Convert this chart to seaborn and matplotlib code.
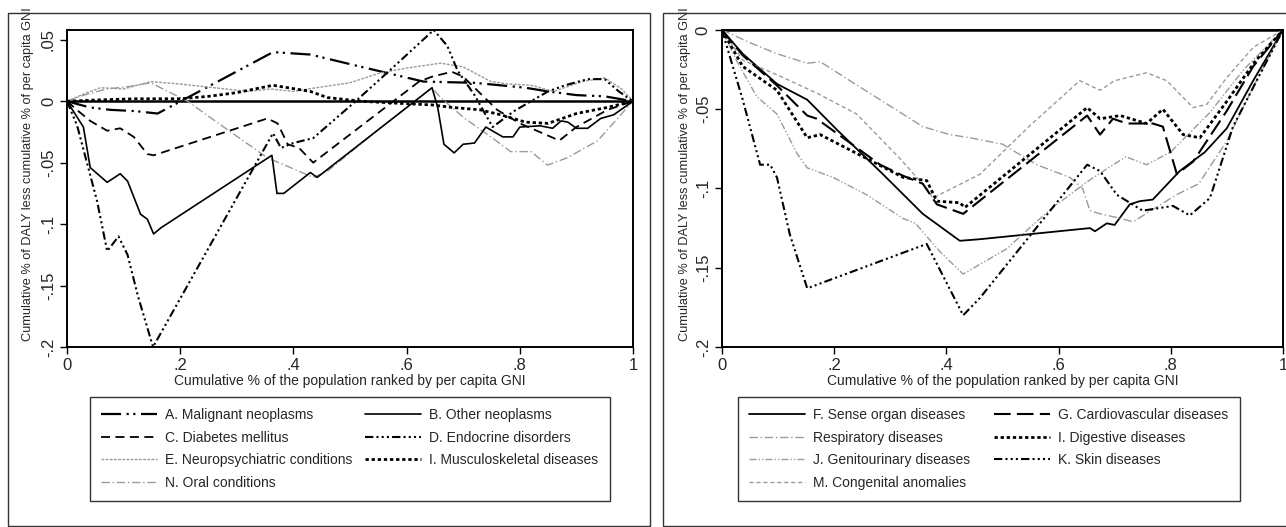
import matplotlib
matplotlib.use("Agg")
import matplotlib.pyplot as plt
import seaborn as sns
from matplotlib.patches import Rectangle

# left panel series
a_x = [0, 0.04, 0.077, 0.12, 0.16, 0.25, 0.364, 0.43, 0.52, 0.63, 0.72, 0.81, 0.85, 0.90, 0.95, 1]
a_y = [0, -0.005, -0.007, -0.008, -0.010, 0.012, 0.040, 0.038, 0.028, 0.016, 0.015, 0.011, 0.008, 0.005, 0.004, 0]

b_x = [0, 0.029, 0.041, 0.071, 0.094, 0.107, 0.13, 0.142, 0.153, 0.166, 0.362, 0.371, 0.383, 0.43, 0.442,
       0.645, 0.655, 0.666, 0.684, 0.70, 0.72, 0.74, 0.77, 0.788, 0.80, 0.836, 0.858, 0.873, 0.885, 0.90,
       0.92, 0.943, 0.966, 1]
b_y = [0, -0.021, -0.054, -0.066, -0.059, -0.065, -0.092, -0.096, -0.108, -0.103, -0.044, -0.075, -0.075,
       -0.058, -0.062, 0.011, -0.005, -0.035, -0.042, -0.035, -0.034, -0.021, -0.029, -0.029, -0.021, -0.020,
       -0.022, -0.016, -0.017, -0.022, -0.022, -0.014, -0.011, 0]

c_x = [0, 0.02, 0.041, 0.071, 0.094, 0.118, 0.142, 0.153, 0.354, 0.372, 0.39, 0.41, 0.435, 0.622, 0.645,
       0.68, 0.70, 0.76, 0.80, 0.84, 0.87, 0.90, 0.955, 1]
c_y = [0, -0.008, -0.016, -0.024, -0.022, -0.029, -0.043, -0.044, -0.014, -0.018, -0.035, -0.038, -0.050,
       0.016, 0.020, 0.024, 0.020, -0.007, -0.018, -0.026, -0.032, -0.021, -0.007, 0]

d_x = [0, 0.018, 0.053, 0.071, 0.091, 0.107, 0.125, 0.152, 0.364, 0.378, 0.40, 0.435, 0.51, 0.57, 0.648,
       0.672, 0.69, 0.72, 0.752, 0.79, 0.82, 0.85, 0.88, 0.92, 0.95, 0.975, 1]
d_y = [0, -0.020, -0.081, -0.122, -0.110, -0.125, -0.158, -0.200, -0.026, -0.038, -0.034, -0.030, 0.0,
       0.025, 0.058, 0.045, 0.025, 0.005, -0.021, -0.008, 0.0, 0.008, 0.013, 0.018, 0.018, 0.008, 0]

e_x = [0, 0.03, 0.059, 0.10, 0.148, 0.20, 0.26, 0.32, 0.36, 0.40, 0.44, 0.50, 0.553, 0.60, 0.66, 0.70,
       0.749, 0.78, 0.82, 0.86, 0.91, 0.95, 0.98, 1]
e_y = [0, 0.006, 0.011, 0.010, 0.016, 0.014, 0.011, 0.008, 0.010, 0.008, 0.011, 0.015, 0.023, 0.027,
       0.031, 0.028, 0.016, 0.014, 0.013, 0.008, 0.016, 0.019, 0.010, 0]

i1_x = [0, 0.05, 0.12, 0.20, 0.25, 0.30, 0.364, 0.43, 0.46, 0.52, 0.60, 0.645, 0.68, 0.73, 0.766, 0.81,
        0.85, 0.90, 0.955, 1]
i1_y = [0, 0.001, 0.002, 0.002, 0.004, 0.007, 0.013, 0.008, 0.003, 0.0, -0.002, -0.003, -0.005, -0.007,
        -0.011, -0.017, -0.018, -0.010, -0.005, 0]

n_x = [0, 0.03, 0.07, 0.11, 0.148, 0.213, 0.28, 0.354, 0.40, 0.435, 0.46, 0.55, 0.645, 0.66, 0.70, 0.749,
       0.784, 0.82, 0.849, 0.884, 0.938, 0.99, 1]
n_y = [0, 0.005, 0.010, 0.012, 0.015, 0.0, -0.022, -0.046, -0.055, -0.062, -0.057, -0.023, 0.011, 0.003,
       -0.013, -0.029, -0.041, -0.041, -0.052, -0.046, -0.032, -0.005, 0]

# right panel series
f_x = [0, 0.037, 0.098, 0.152, 0.205, 0.287, 0.358, 0.424, 0.46, 0.656, 0.665, 0.686, 0.70, 0.727, 0.745,
       0.768, 0.816, 0.861, 0.90, 0.947, 1]
f_y = [0, -0.015, -0.034, -0.044, -0.063, -0.091, -0.116, -0.133, -0.132, -0.125, -0.127, -0.122, -0.123,
       -0.110, -0.108, -0.107, -0.089, -0.077, -0.062, -0.032, 0]

g_x = [0, 0.037, 0.098, 0.152, 0.169, 0.282, 0.323, 0.358, 0.383, 0.43, 0.651, 0.674, 0.697, 0.722, 0.768,
       0.786, 0.811, 0.84, 0.90, 0.947, 1]
g_y = [0, -0.016, -0.035, -0.054, -0.056, -0.085, -0.092, -0.097, -0.110, -0.116, -0.054, -0.066, -0.056,
       -0.059, -0.059, -0.061, -0.091, -0.083, -0.051, -0.023, 0]

r_x = [0, 0.05, 0.098, 0.152, 0.175, 0.228, 0.30, 0.358, 0.406, 0.442, 0.50, 0.561, 0.62, 0.643, 0.656,
       0.674, 0.70, 0.733, 0.76, 0.81, 0.85, 0.90, 0.947, 1]
r_y = [0, -0.008, -0.015, -0.021, -0.020, -0.032, -0.048, -0.061, -0.066, -0.068, -0.072, -0.085, -0.093,
       -0.100, -0.114, -0.116, -0.118, -0.121, -0.115, -0.104, -0.097, -0.070, -0.036, 0]

i2_x = [0, 0.037, 0.098, 0.152, 0.175, 0.323, 0.365, 0.383, 0.424, 0.433, 0.651, 0.674, 0.71, 0.757, 0.786,
        0.822, 0.852, 0.90, 0.95, 1]
i2_y = [0, -0.023, -0.038, -0.068, -0.066, -0.093, -0.095, -0.108, -0.109, -0.112, -0.049, -0.056, -0.054,
        -0.059, -0.050, -0.066, -0.068, -0.045, -0.020, 0]

j_x = [0, 0.027, 0.062, 0.098, 0.134, 0.152, 0.198, 0.258, 0.323, 0.345, 0.389, 0.43, 0.508, 0.554, 0.59,
       0.65, 0.68, 0.72, 0.757, 0.80, 0.87, 0.93, 1]
j_y = [0, -0.020, -0.042, -0.053, -0.078, -0.087, -0.093, -0.104, -0.119, -0.122, -0.140, -0.154, -0.138,
       -0.123, -0.112, -0.096, -0.089, -0.080, -0.085, -0.077, -0.052, -0.025, 0]

k_x = [0, 0.037, 0.068, 0.086, 0.098, 0.121, 0.152, 0.365, 0.43, 0.46, 0.651, 0.674, 0.704, 0.75, 0.804,
       0.834, 0.87, 0.911, 0.959, 1]
k_y = [0, -0.044, -0.085, -0.085, -0.093, -0.129, -0.163, -0.135, -0.180, -0.169, -0.085, -0.089, -0.104,
       -0.114, -0.111, -0.117, -0.106, -0.061, -0.028, 0]

m_x = [0, 0.037, 0.109, 0.17, 0.24, 0.317, 0.365, 0.376, 0.46, 0.55, 0.638, 0.674, 0.70, 0.757, 0.793,
       0.84, 0.864, 0.90, 0.947, 1]
m_y = [0, -0.019, -0.030, -0.040, -0.053, -0.081, -0.100, -0.106, -0.091, -0.060, -0.032, -0.038, -0.032,
       -0.027, -0.032, -0.049, -0.047, -0.030, -0.011, 0]

x_ticks = [0, 0.2, 0.4, 0.6, 0.8, 1]
x_labels = ["0", ".2", ".4", ".6", ".8", "1"]
left_yticks = [-0.2, -0.15, -0.1, -0.05, 0, 0.05]
left_ylabels = ["-.2", "-.15", "-.1", "-.05", "0", ".05"]
right_yticks = [-0.2, -0.15, -0.1, -0.05, 0]
right_ylabels = ["-.2", "-.15", "-.1", "-.05", "0"]

sns.set_theme(style="white")
plt.rcParams["font.family"] = ["Liberation Sans Narrow", "Liberation Sans", "DejaVu Sans"]

BLK = "black"
GRY = "#9a9a9a"
dashdot2 = (0, (9, 2.5, 1, 2, 1, 2.5))
dashdot3 = (0, (4, 1.5, 1, 1.5, 1, 1.5, 1, 1.5))
grey_dd = (0, (6, 2, 1, 2))
grey_ddd = (0, (5, 1.5, 1, 1.5, 1, 1.5))

left_series = [
    ("A. Malignant neoplasms", a_x, a_y, BLK, dashdot2, 1.6),
    ("C. Diabetes mellitus", c_x, c_y, BLK, (0, (5, 3)), 1.3),
    ("E. Neuropsychiatric conditions", e_x, e_y, GRY, (0, (2, 1)), 1.0),
    ("N. Oral conditions", n_x, n_y, GRY, grey_dd, 1.0),
    ("B. Other neoplasms", b_x, b_y, BLK, "-", 1.2),
    ("D. Endocrine disorders", d_x, d_y, BLK, dashdot3, 1.5),
    ("I. Musculoskeletal diseases", i1_x, i1_y, BLK, (0, (1.2, 1)), 2.0),
]
right_series = [
    ("F. Sense organ diseases", f_x, f_y, BLK, "-", 1.3),
    ("Respiratory diseases", r_x, r_y, GRY, grey_dd, 1.0),
    ("J. Genitourinary diseases", j_x, j_y, GRY, grey_ddd, 1.0),
    ("M. Congenital anomalies", m_x, m_y, GRY, (0, (3, 2)), 1.0),
    ("G. Cardiovascular diseases", g_x, g_y, BLK, (0, (8, 3)), 1.5),
    ("I. Digestive diseases", i2_x, i2_y, BLK, (0, (1.2, 1)), 2.0),
    ("K. Skin diseases", k_x, k_y, BLK, dashdot3, 1.5),
]

fig = plt.figure(figsize=(12.86, 5.27), dpi=100)

# outer panel frames
fig.patches.append(Rectangle((0.0062, 0.002), 0.499, 0.973, transform=fig.transFigure,
                             fill=False, edgecolor="#333333", linewidth=1.0))
fig.patches.append(Rectangle((0.5155, 0.002), 0.49, 0.973, transform=fig.transFigure,
                             fill=False, edgecolor="#333333", linewidth=1.0))

ax1 = fig.add_axes([0.0521, 0.3416, 0.4401, 0.6015])
ax2 = fig.add_axes([0.5614, 0.3416, 0.4362, 0.6015])


def draw(ax, series, yticks, ylabels, ylim, legend_box, ylab_x):
    handles = []
    for label, xs, ys, col, ls, lw in series:
        sns.lineplot(x=xs, y=ys, ax=ax, color=col, linestyle=ls, linewidth=lw,
                     sort=False, estimator=None, label=label, legend=False)
        handles.append(ax.lines[-1])
    ax.axhline(0, color="black", linewidth=1.8, zorder=1)
    ax.set_xlim(0, 1)
    ax.set_ylim(*ylim)
    ax.set_xticks(x_ticks)
    ax.set_xticklabels(x_labels, fontsize=12)
    ax.set_yticks(yticks)
    ax.set_yticklabels(ylabels, fontsize=12, rotation=90, va="center")
    ax.tick_params(axis="both", direction="out", length=5, width=1, color="black",
                   left=True, bottom=True, pad=3)
    for sp in ax.spines.values():
        sp.set_color("black")
        sp.set_linewidth(1.4)
    ax.set_xlabel("Cumulative % of the population ranked by per capita GNI",
                  fontsize=10, labelpad=1)
    ax.set_ylabel("Cumulative % of DALY less cumulative % of per capita GNI",
                  fontsize=9.2)
    ax.yaxis.set_label_coords(ylab_x, 0.545)
    leg = fig.legend(handles=handles, labels=[s[0] for s in series], ncol=2,
                     loc="upper left", bbox_to_anchor=legend_box, mode="expand",
                     bbox_transform=fig.transFigure, fontsize=10, frameon=True,
                     fancybox=False, edgecolor="black", handlelength=4.0,
                     handletextpad=0.6, labelspacing=0.62, borderpad=0.8,
                     borderaxespad=0)
    leg.get_frame().set_linewidth(1.0)


draw(ax1, left_series, left_yticks, left_ylabels, (-0.2, 0.058),
     (0.070, 0.036, 0.404, 0.211), -0.058)
draw(ax2, right_series, right_yticks, right_ylabels, (-0.2, 0.0),
     (0.574, 0.036, 0.390, 0.211), -0.055)

fig.savefig("out.png", dpi=100)
